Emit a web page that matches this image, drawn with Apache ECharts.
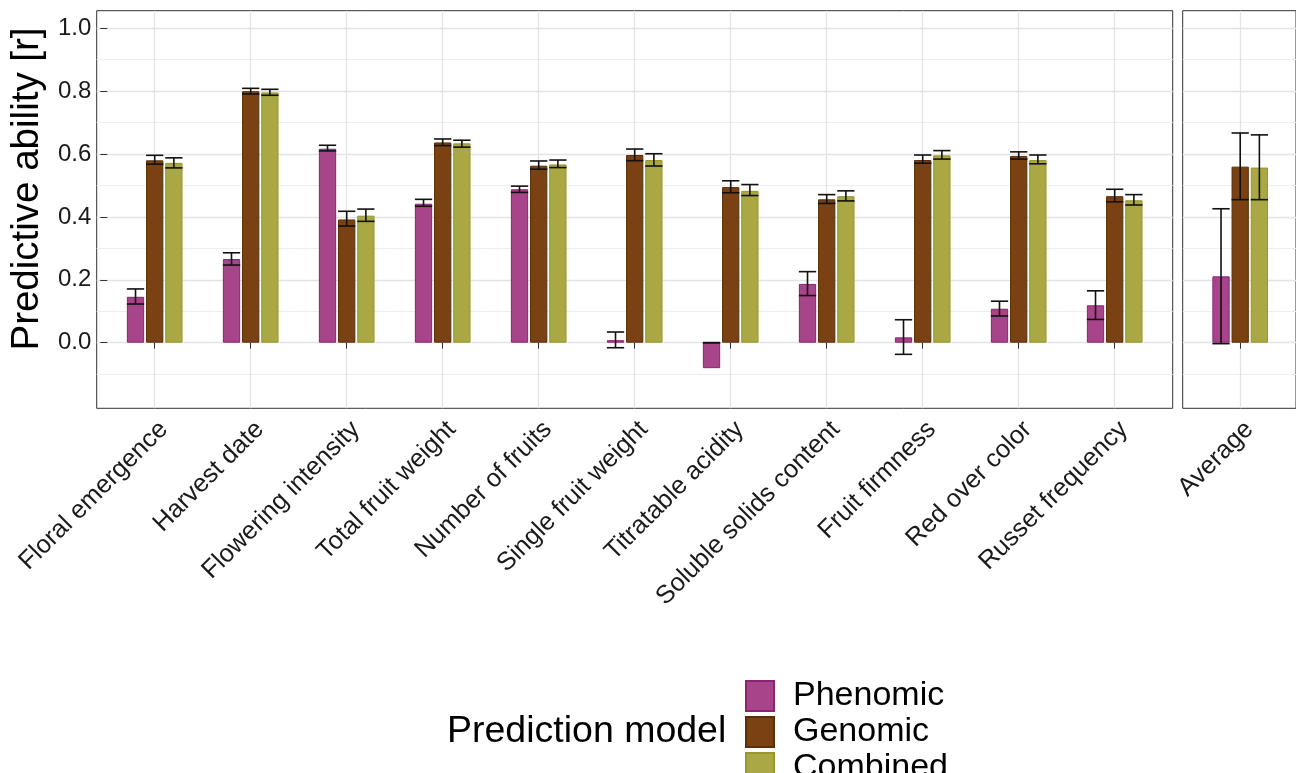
<!DOCTYPE html>
<html>
<head>
<meta charset="utf-8">
<script src="https://cdn.jsdelivr.net/npm/echarts@6/dist/echarts.min.js"></script>
<style>
html,body{margin:0;padding:0;background:#fff;}
#chart{width:1296px;height:773px;}
</style>
</head>
<body>
<div id="chart"></div>
<script>
// ---------- data ----------
const categories = ['Floral emergence','Harvest date','Flowering intensity','Total fruit weight','Number of fruits','Single fruit weight','Titratable acidity','Soluble solids content','Fruit firmness','Red over color','Russet frequency'];
const seriesNames = ['Phenomic','Genomic','Combined'];

const phenomic   = [0.146, 0.266, 0.617, 0.442, 0.488, 0.008, -0.081, 0.187, 0.017, 0.108, 0.119];
const phenomicLo = [0.123, 0.247, 0.610, 0.434, 0.478, -0.016, 0.000, 0.150, -0.037, 0.085, 0.074];
const phenomicHi = [0.171, 0.286, 0.628, 0.456, 0.498, 0.034, 0.000, 0.226, 0.073, 0.132, 0.165];

const genomic   = [0.580, 0.800, 0.392, 0.637, 0.563, 0.597, 0.495, 0.456, 0.581, 0.594, 0.466];
const genomicLo = [0.568, 0.791, 0.371, 0.627, 0.552, 0.579, 0.477, 0.443, 0.571, 0.584, 0.448];
const genomicHi = [0.596, 0.809, 0.418, 0.648, 0.578, 0.616, 0.515, 0.471, 0.597, 0.607, 0.488];

const combined   = [0.572, 0.796, 0.404, 0.634, 0.567, 0.581, 0.483, 0.466, 0.596, 0.581, 0.453];
const combinedLo = [0.556, 0.787, 0.386, 0.622, 0.557, 0.562, 0.468, 0.451, 0.584, 0.569, 0.438];
const combinedHi = [0.588, 0.806, 0.425, 0.644, 0.581, 0.601, 0.503, 0.483, 0.611, 0.597, 0.471];

const avgCategories = ['Average'];
const avgPhenomic = [0.211], avgPhenomicLo = [-0.003], avgPhenomicHi = [0.426];
const avgGenomic  = [0.560], avgGenomicLo  = [0.455],  avgGenomicHi  = [0.667];
const avgCombined = [0.557], avgCombinedLo = [0.455],  avgCombinedHi = [0.661];

const yTickMin = 0, yTickMax = 1.0, yTickStep = 0.2;
const yGridMin = -0.2;

// ---------- layout / style ----------
const FONT = '"Liberation Sans", Arial, sans-serif';
const fills   = ['#A8448A', '#7A4213', '#AAA845'];
const borders = ['#8A2370', '#5A2E08', '#96962A'];
const MAJOR = '#E4E4E4', MINOR = '#EFEFEF';

const ZERO_Y = 342.7, UNIT = 314.4, PANEL_TOP = 10.7, PANEL_BOT = 408.3;
const yFullMax = (ZERO_Y - PANEL_TOP) / UNIT;
const yFullMin = -(PANEL_BOT - ZERO_Y) / UNIT;
const BAND = 96;
const P1L = 96.7, P1W = 1076;
const P2L = 1182.7, P2W = 115;
const BAR_FRAC = 0.18, GAP_FRAC = 0.11;

// grid indices: 0 frame1, 1 hlines1, 2 ticks1, 3 data1, 4 frame2, 5 hlines2, 6 data2
const grids = [
  {left: P1L, top: PANEL_TOP, width: P1W, height: PANEL_BOT - PANEL_TOP, show: true, borderColor: '#333', borderWidth: 1, backgroundColor: 'transparent'},
  {left: P1L, top: ZERO_Y - UNIT * yTickMax, width: P1W, height: UNIT * (yTickMax - yGridMin)},
  {left: P1L, top: ZERO_Y - UNIT * yTickMax, width: P1W, height: UNIT * (yTickMax - yTickMin)},
  {left: P1L + (P1W - categories.length * BAND) / 2, top: PANEL_TOP, width: categories.length * BAND, height: PANEL_BOT - PANEL_TOP},
  {left: P2L, top: PANEL_TOP, width: P2W, height: PANEL_BOT - PANEL_TOP, show: true, borderColor: '#333', borderWidth: 1, backgroundColor: 'transparent'},
  {left: P2L, top: ZERO_Y - UNIT * yTickMax, width: P2W, height: UNIT * (yTickMax - yGridMin)},
  {left: P2L + (P2W - avgCategories.length * BAND) / 2, top: PANEL_TOP, width: avgCategories.length * BAND, height: PANEL_BOT - PANEL_TOP}
];

const nMajor = Math.round((yTickMax - yGridMin) / yTickStep) + 1;
const majorColors = [];
for (let i = 0; i < nMajor; i++) majorColors.push(i === 0 ? 'rgba(0,0,0,0)' : MAJOR);

function hiddenValueAxis(gi) { return {type: 'value', gridIndex: gi, show: false, min: 0, max: 1}; }
function hlineYAxis(gi) {
  return {
    type: 'value', gridIndex: gi, min: yGridMin, max: yTickMax, interval: yTickStep,
    axisLine: {show: false}, axisTick: {show: false}, axisLabel: {show: false},
    splitLine: {show: true, lineStyle: {color: majorColors, width: 1.3}},
    minorTick: {show: false, splitNumber: 2},
    minorSplitLine: {show: true, lineStyle: {color: MINOR, width: 1}}
  };
}
function catXAxis(gi, data) {
  return {
    type: 'category', gridIndex: gi, data: data, boundaryGap: true,
    axisLine: {show: false},
    axisTick: {show: true, alignWithLabel: true, length: 6, lineStyle: {color: '#333', width: 1}},
    splitLine: {show: true, alignWithLabel: true, lineStyle: {color: MAJOR, width: 1.3}},
    axisLabel: {interval: 0, rotate: 45, align: 'right', verticalAlign: 'top', margin: 8,
                fontSize: 25.5, color: '#1a1a1a', fontFamily: FONT}
  };
}
function dataYAxis(gi) { return {type: 'value', gridIndex: gi, min: yFullMin, max: yFullMax, show: false}; }

const xAxes = [
  hiddenValueAxis(0), hiddenValueAxis(1), hiddenValueAxis(2), catXAxis(3, categories),
  hiddenValueAxis(4), hiddenValueAxis(5), catXAxis(6, avgCategories)
];
const yAxes = [
  hiddenValueAxis(0),
  hlineYAxis(1),
  {
    type: 'value', gridIndex: 2, min: yTickMin, max: yTickMax, interval: yTickStep,
    axisLine: {show: false},
    axisTick: {show: true, length: 7, lineStyle: {color: '#333', width: 1}},
    axisLabel: {fontSize: 24, color: '#1a1a1a', margin: 16, fontFamily: FONT,
                formatter: v => v.toFixed(1)},
    splitLine: {show: false},
    name: 'Predictive ability [r]', nameLocation: 'middle', nameGap: 48,
    nameTextStyle: {fontSize: 38.5, color: '#000', fontFamily: FONT, padding: [0, 7, 0, 0]}
  },
  dataYAxis(3),
  hiddenValueAxis(4),
  hlineYAxis(5),
  dataYAxis(6)
];

function barSeries(name, idx, gi, values) {
  return {
    type: 'bar', name: name, xAxisIndex: gi, yAxisIndex: gi, data: values,
    barWidth: (BAR_FRAC * 100) + '%', barGap: (GAP_FRAC * 100) + '%',
    itemStyle: {color: fills[idx], borderColor: borders[idx], borderWidth: 1},
    emphasis: {disabled: true}, z: 2
  };
}
function errData(groups) {
  const out = [];
  groups.forEach((g, gIdx) => {
    g.lo.forEach((lo, i) => out.push([i, lo, g.hi[i], gIdx]));
  });
  return out;
}
function renderErr(params, api) {
  const c = api.value(0), lo = api.value(1), hi = api.value(2), g = api.value(3);
  const band = api.size([1, 0])[0];
  const bw = band * BAR_FRAC;
  const step = bw * (1 + GAP_FRAC);
  const x = api.coord([c, 0])[0] + (g - 1) * step;
  const yLo = api.coord([c, lo])[1], yHi = api.coord([c, hi])[1];
  const hw = bw / 2;
  const st = {stroke: '#111', lineWidth: 1.6};
  return {type: 'group', children: [
    {type: 'line', shape: {x1: x, y1: yHi, x2: x, y2: yLo}, style: st},
    {type: 'line', shape: {x1: x - hw, y1: yHi, x2: x + hw, y2: yHi}, style: st},
    {type: 'line', shape: {x1: x - hw, y1: yLo, x2: x + hw, y2: yLo}, style: st}
  ]};
}
function errSeries(gi, groups) {
  return {type: 'custom', xAxisIndex: gi, yAxisIndex: gi, data: errData(groups),
          renderItem: renderErr, encode: {x: 0, y: [1, 2]}, z: 5, silent: true};
}

const series = [
  barSeries('Phenomic', 0, 3, phenomic),
  barSeries('Genomic', 1, 3, genomic),
  barSeries('Combined', 2, 3, combined),
  errSeries(3, [{lo: phenomicLo, hi: phenomicHi}, {lo: genomicLo, hi: genomicHi}, {lo: combinedLo, hi: combinedHi}]),
  barSeries('Phenomic', 0, 6, avgPhenomic),
  barSeries('Genomic', 1, 6, avgGenomic),
  barSeries('Combined', 2, 6, avgCombined),
  errSeries(6, [{lo: avgPhenomicLo, hi: avgPhenomicHi}, {lo: avgGenomicLo, hi: avgGenomicHi}, {lo: avgCombinedLo, hi: avgCombinedHi}])
];

const chart = echarts.init(document.getElementById('chart'), null, {renderer: 'canvas'});
chart.setOption({
  animation: false,
  backgroundColor: '#fff',
  textStyle: {fontFamily: FONT},
  title: {text: 'Prediction model', left: 447, top: 713, padding: 0,
          textStyle: {fontSize: 37.5, fontWeight: 'normal', color: '#000', fontFamily: FONT}},
  legend: {
    data: seriesNames, orient: 'vertical', left: 745, top: 679, height: 150, padding: 0,
    itemWidth: 28, itemHeight: 30, itemGap: 2, icon: 'rect', selectedMode: false,
    textStyle: {fontSize: 34, color: '#000', lineHeight: 30, padding: [0, 0, 0, 14], fontFamily: FONT}
  },
  grid: grids,
  xAxis: xAxes,
  yAxis: yAxes,
  series: series
});
</script>
</body>
</html>
